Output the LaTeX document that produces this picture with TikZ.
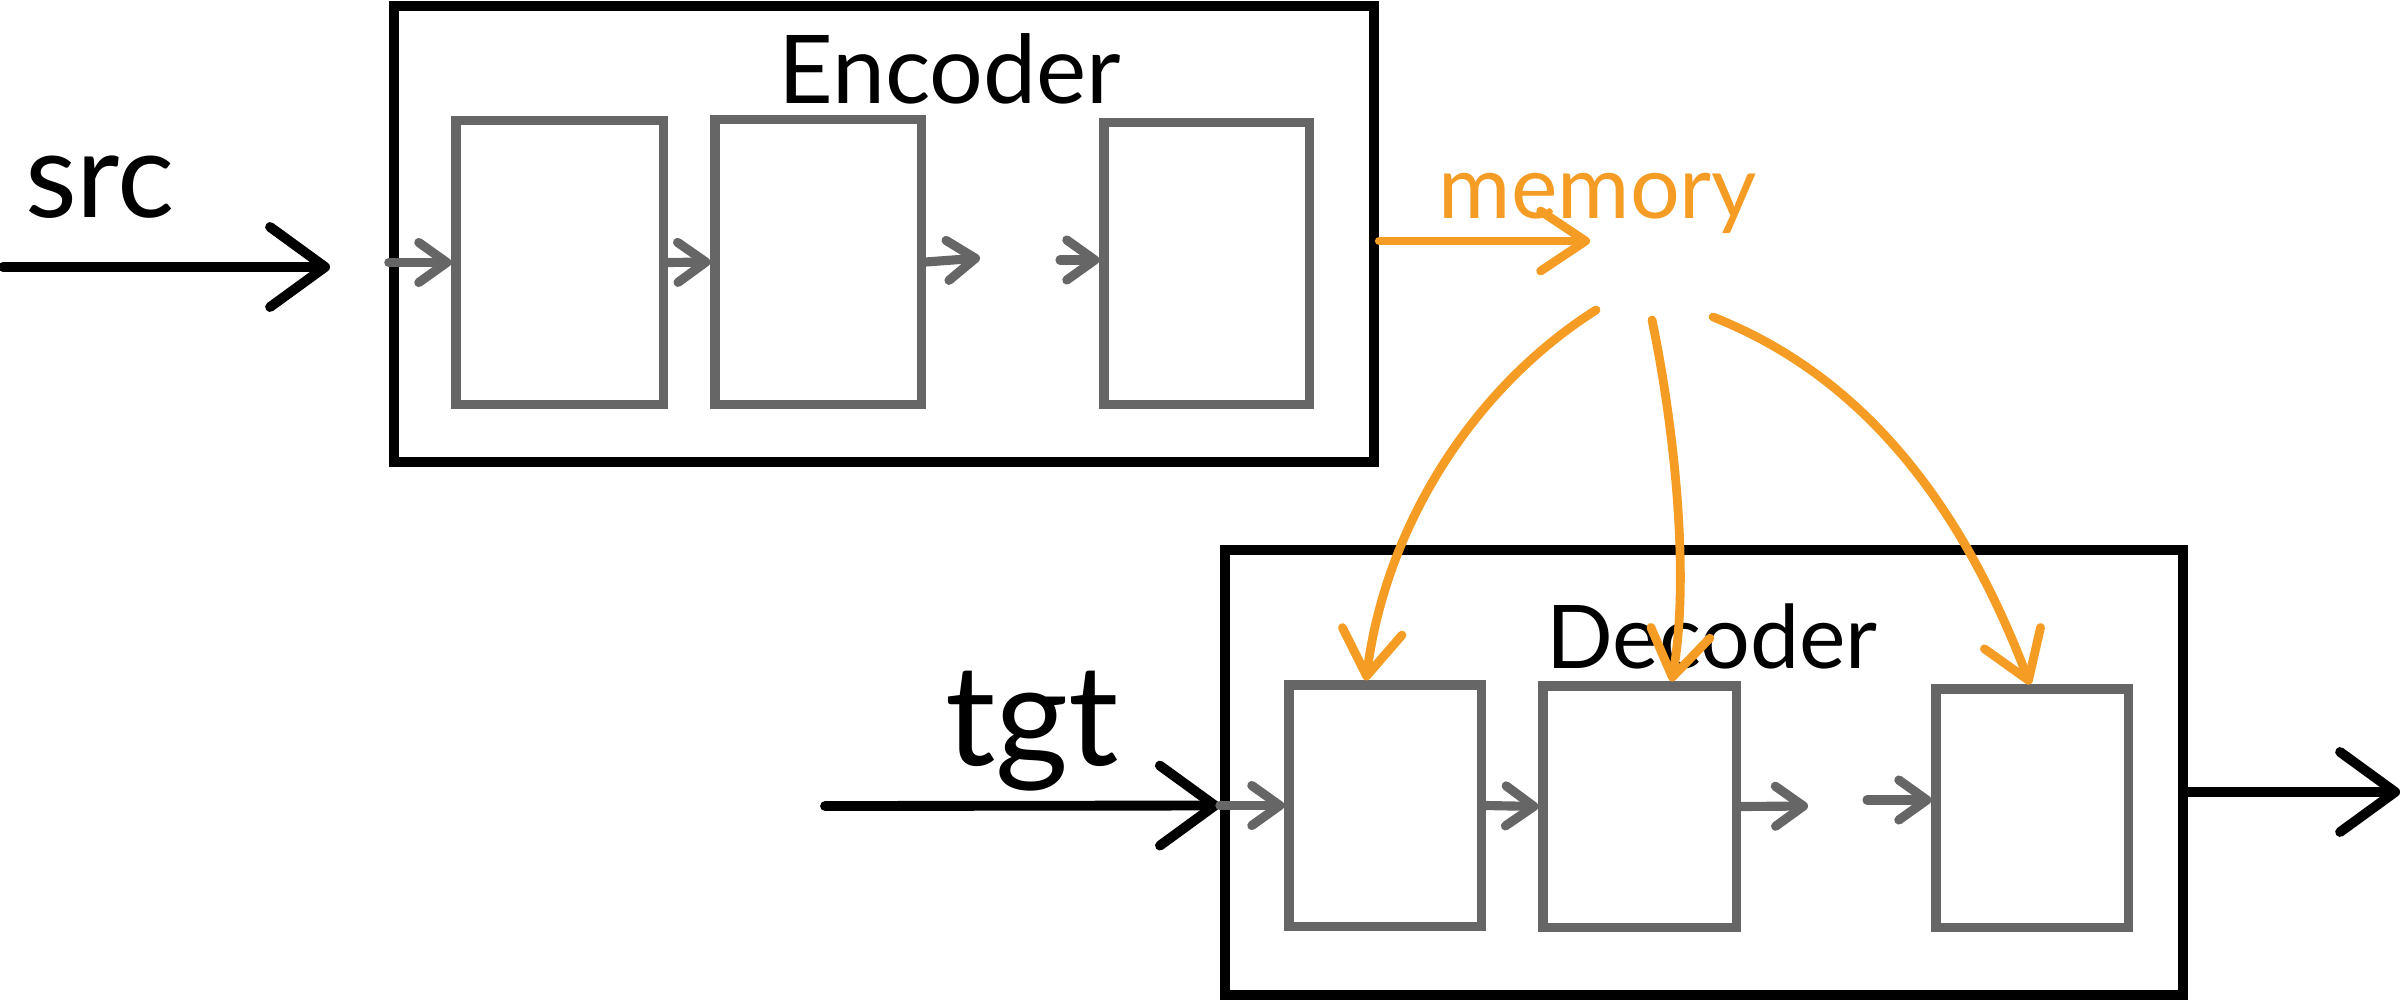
\documentclass[tikz,border=0pt]{standalone}
\usepackage{fontspec}
\setmainfont{Lato}
\usetikzlibrary{arrows.meta}
\definecolor{boxgray}{RGB}{102,102,102}
\definecolor{memorange}{RGB}{244,156,36}
\tikzset{
  outerbox/.style={draw=black, line width=2.8pt, inner sep=0pt},
  innerbox/.style={draw=boxgray, line width=2.6pt, inner sep=0pt},
  blkarrow/.style={draw=black, line width=2.8pt, line cap=round,
    -{Straight Barb[length=0.55cm,width=0.8cm,round]}},
  grayarrow/.style={draw=boxgray, line width=2.6pt, line cap=round,
    -{Straight Barb[length=0.28cm,width=0.4cm,round]}},
  orarrow/.style={draw=memorange, line width=2.5pt, line cap=round,
    -{Straight Barb[length=0.45cm,width=0.6cm,round]}},
  lbl/.style={anchor=base, inner sep=0pt},
}
\begin{document}
\begin{tikzpicture}[x=0.01cm, y=-0.01cm]
\useasboundingbox (0,0) rectangle (2407,1000);

% outer boxes
\node[outerbox, minimum width=9.8cm, minimum height=4.56cm] (enc) at (884,234) {};
\node[outerbox, minimum width=9.58cm, minimum height=4.45cm] (dec) at (1704,772.5) {};

% encoder inner boxes
\node[innerbox, minimum width=2.07cm, minimum height=2.83cm] (e1) at (559.5,262.5) {};
\node[innerbox, minimum width=2.06cm, minimum height=2.84cm] (e2) at (818,262) {};
\node[innerbox, minimum width=2.05cm, minimum height=2.81cm] (e3) at (1206.5,263.5) {};

% decoder inner boxes
\node[innerbox, minimum width=1.92cm, minimum height=2.41cm] (d1) at (1385,805.5) {};
\node[innerbox, minimum width=1.93cm, minimum height=2.41cm] (d2) at (1639.5,806.5) {};
\node[innerbox, minimum width=1.92cm, minimum height=2.38cm] (d3) at (2032,808) {};

% labels
\node[lbl, font=\fontsize{27}{32}\selectfont] (enclbl) at (950,103) {Encoder};
\node[lbl, font=\fontsize{25}{30}\selectfont] (declbl) at (1712,668) {Decoder};
\node[lbl, font=\fontsize{34}{40}\selectfont] (srclbl) at (100,217) {src};
\node[lbl, font=\fontsize{40}{46}\selectfont] (tgtlbl) at (1032,765) {tgt};
\node[lbl, text=memorange, font=\fontsize{25}{30}\selectfont] (memlbl) at (1598,218) {memory};

% free ends
\coordinate (srcS) at (3,267);
\coordinate (srcE) at (330,267);
\coordinate (e2out) at (980,258);
\coordinate (e3in) at (1060,260);
\coordinate (memE) at (1590,241);
\coordinate (tgtS) at (825,806);
\coordinate (d2out) at (1808,806);
\coordinate (d3in) at (1867,800);
\coordinate (outE) at (2400,792);
\coordinate (c1) at (1596,310);
\coordinate (c2) at (1652,320);
\coordinate (c3) at (1713,317);

% src and encoder chain
\draw[blkarrow] (srcS) -- (srcE);
\draw[grayarrow] (enc.west |- e1.west) -- (e1.west);
\draw[grayarrow] (e1.east) -- (e2.west);
\draw[grayarrow] (e2.east) -- (e2out);
\draw[grayarrow] (e3in) -- (e3in -| e3.west);

% memory
\draw[orarrow] (enc.east |- memE) -- (memE);
\draw[orarrow] (c1) .. controls (1470,390) and (1385,530) .. ([xshift=-0.19cm]d1.north);
\draw[orarrow] (c2) .. controls (1675,430) and (1690,580) .. ([xshift=0.32cm]d2.north);
\draw[orarrow] (c3) .. controls (1860,375) and (1960,500) .. ([xshift=-0.02cm]d3.north);

% tgt and decoder chain
\draw[blkarrow] (tgtS) -- (dec.west |- d1.west);
\draw[grayarrow] (dec.west |- d1.west) -- (d1.west);
\draw[grayarrow] (d1.east) -- (d2.west);
\draw[grayarrow] (d2.east) -- (d2out);
\draw[grayarrow] (d3in) -- (d3in -| d3.west);
\draw[blkarrow] (dec.east |- outE) -- (outE);
\end{tikzpicture}
\end{document}
